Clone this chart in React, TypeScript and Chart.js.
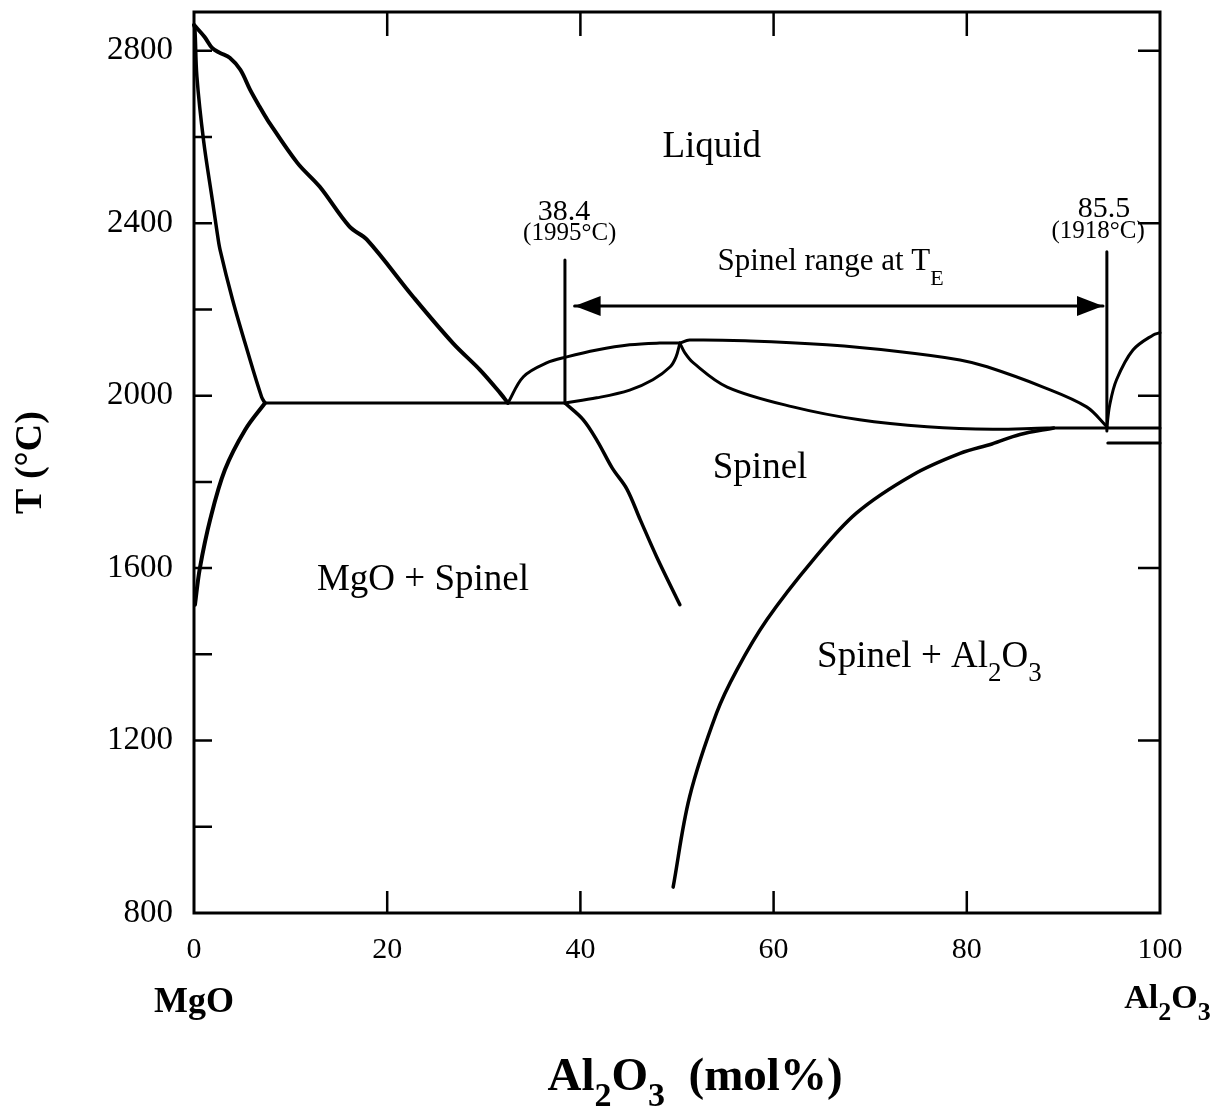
import React, { useEffect, useRef } from 'react';
import { Chart, registerables } from 'chart.js';

Chart.register(...registerables);

// ---------- axis ranges & ticks ----------
const X_MIN = 0;
const X_MAX = 100;
const Y_MIN = 800;
const Y_MAX = 2890;
const xTickValues = [0, 20, 40, 60, 80, 100];
const yTickValues = [800, 1000, 1200, 1400, 1600, 1800, 2000, 2200, 2400, 2600, 2800];
const yLabelValues = [800, 1200, 1600, 2000, 2400, 2800];
const leftInnerTicks = [1000, 1200, 1400, 1600, 1800, 2000, 2200, 2400, 2600, 2800];
const rightInnerTicks = [1200, 1600, 2000, 2400, 2800];
const topInnerTicks = [20, 40, 60, 80];
const bottomInnerTicks = [20, 40, 60, 80];

// ---------- phase boundaries (x = mol% Al2O3, y = °C) ----------
const mgoLiquidus: [number, number][] = [
  [0, 2860], [1.1, 2832], [1.9, 2806], [2.7, 2795], [3.7, 2784], [4.8, 2756], [5.8, 2710],
  [6.8, 2670], [7.6, 2640], [10.7, 2540], [13.0, 2485], [16.1, 2392], [17.9, 2362],
  [22.7, 2229], [26.8, 2122], [29.6, 2060], [31.7, 2006], [32.5, 1983],
];
const mgoSolidus: [number, number][] = [
  [0, 2860], [0.1, 2849], [0.3, 2740], [1.0, 2590], [1.9, 2454], [2.4, 2378], [2.7, 2338],
  [4.0, 2222], [5.5, 2106], [7.0, 1997], [7.35, 1983],
];
const mgoSolvus: [number, number][] = [
  [7.35, 1983], [5.3, 1921], [3.2, 1828], [1.7, 1715], [0.6, 1599], [0.1, 1515],
];
const eutecticMgO: [number, number][] = [[7.35, 1983], [38.4, 1983]];
const spinelLiquidusLeft: [number, number][] = [
  [32.5, 1983], [34.1, 2044], [36.5, 2076], [38.6, 2090], [41.7, 2106], [45.1, 2118],
  [48.2, 2122], [50.3, 2122],
];
const spinelSolidusLeft: [number, number][] = [
  [38.4, 1983], [41.7, 1995], [45.1, 2013], [47.5, 2037], [49.3, 2067], [49.9, 2090], [50.3, 2122],
];
const spinelLiquidusRight: [number, number][] = [
  [50.3, 2122], [51.3, 2129], [57.6, 2127], [65.5, 2118], [73.1, 2102], [79.3, 2083],
  [82.1, 2067], [87.9, 2020], [92.4, 1974], [94.5, 1928],
];
const spinelSolidusRight: [number, number][] = [
  [50.3, 2122], [50.8, 2100], [51.7, 2076], [55.2, 2020], [62.0, 1974], [68.9, 1944],
  [75.9, 1928], [82.7, 1922], [88.3, 1925], [94.5, 1925], [100, 1925],
];
const spinelSolvusMgO: [number, number][] = [
  [38.4, 1983], [40.3, 1944], [41.8, 1893], [43.3, 1832], [44.8, 1784], [46.2, 1712],
  [47.9, 1626], [50.3, 1515],
];
const spinelSolvusAl2O3: [number, number][] = [
  [49.6, 860], [51.3, 1069], [54.1, 1264], [56.2, 1364], [59.3, 1480], [64.1, 1619],
  [68.6, 1728], [74.4, 1816], [79.3, 1866], [82.6, 1888], [85.5, 1910], [89.0, 1925],
];
const al2o3Liquidus: [number, number][] = [
  [94.5, 1928], [94.8, 1979], [95.5, 2037], [97.2, 2106], [99.3, 2141], [100, 2146],
];
const al2o3Lower: [number, number][] = [[94.6, 1890], [100, 1890]];
const marker384: [number, number][] = [[38.4, 1983], [38.4, 2315]];
const marker855: [number, number][] = [[94.5, 1918], [94.5, 2334]];
const spinelRangeArrow: [number, number][] = [[39.4, 2208], [94.1, 2208]];

const FONT = '"Liberation Serif", "Times New Roman", Times, serif';

type Part = { t: string; sub?: boolean };

function drawRich(
  ctx: CanvasRenderingContext2D,
  parts: Part[],
  x: number,
  y: number,
  align: 'left' | 'center',
  size: number,
  bold: boolean,
  subSize: number,
  subDy: number,
) {
  const f = (s: number) => `${bold ? 'bold ' : ''}${s}px ${FONT}`;
  let w = 0;
  for (const p of parts) {
    ctx.font = f(p.sub ? subSize : size);
    w += ctx.measureText(p.t).width;
  }
  let cx = align === 'center' ? x - w / 2 : x;
  ctx.textAlign = 'left';
  ctx.textBaseline = 'alphabetic';
  for (const p of parts) {
    ctx.font = f(p.sub ? subSize : size);
    ctx.fillText(p.t, cx, p.sub ? y + subDy : y);
    cx += ctx.measureText(p.t).width;
  }
}

const overlayPlugin = {
  id: 'phaseOverlay',
  afterDatasetsDraw(chart: any) {
    const { ctx, chartArea: a, scales } = chart;
    const xs = scales.x;
    const ys = scales.y;
    const px = (v: number) => xs.getPixelForValue(v);
    const py = (v: number) => ys.getPixelForValue(v);
    ctx.save();
    ctx.strokeStyle = '#000';
    ctx.fillStyle = '#000';

    // frame
    ctx.lineWidth = 3;
    ctx.strokeRect(a.left, a.top, a.right - a.left, a.bottom - a.top);

    // inward tick marks
    ctx.lineWidth = 2.5;
    ctx.beginPath();
    for (const v of leftInnerTicks) {
      ctx.moveTo(a.left, py(v));
      ctx.lineTo(a.left + 18, py(v));
    }
    for (const v of rightInnerTicks) {
      ctx.moveTo(a.right, py(v));
      ctx.lineTo(a.right - 22, py(v));
    }
    for (const v of topInnerTicks) {
      ctx.moveTo(px(v), a.top);
      ctx.lineTo(px(v), a.top + 24);
    }
    for (const v of bottomInnerTicks) {
      ctx.moveTo(px(v), a.bottom);
      ctx.lineTo(px(v), a.bottom - 22);
    }
    ctx.stroke();

    // arrow heads
    const [l, r] = spinelRangeArrow;
    const lx = px(l[0]);
    const ly = py(l[1]);
    const rx = px(r[0]);
    const ry = py(r[1]);
    ctx.beginPath();
    ctx.moveTo(lx, ly);
    ctx.lineTo(lx + 26, ly - 10);
    ctx.lineTo(lx + 26, ly + 10);
    ctx.closePath();
    ctx.fill();
    ctx.beginPath();
    ctx.moveTo(rx, ry);
    ctx.lineTo(rx - 26, ry - 10);
    ctx.lineTo(rx - 26, ry + 10);
    ctx.closePath();
    ctx.fill();

    // region & annotation labels
    ctx.textAlign = 'center';
    ctx.textBaseline = 'alphabetic';
    ctx.font = `37px ${FONT}`;
    ctx.fillText('Liquid', px(53.6), py(2554));
    ctx.fillText('Spinel', px(58.6), py(1809));
    ctx.fillText('MgO + Spinel', px(23.7), py(1549));
    drawRich(ctx, [{ t: 'Spinel + Al' }, { t: '2', sub: true }, { t: 'O' }, { t: '3', sub: true }],
      px(64.5), py(1371), 'left', 37, false, 27, 14);

    ctx.textAlign = 'center';
    ctx.font = `30px ${FONT}`;
    ctx.fillText('38.4', px(38.3), py(2408));
    ctx.fillText('85.5', px(94.2), py(2415));
    ctx.font = `25px ${FONT}`;
    ctx.fillText('(1995°C)', px(38.9), py(2361));
    ctx.fillText('(1918°C)', px(93.6), py(2366));
    drawRich(ctx, [{ t: 'Spinel range at T' }, { t: 'E', sub: true }],
      px(54.2), py(2292), 'left', 31, false, 22, 15);

    // composition end-member labels and x title
    ctx.textAlign = 'center';
    ctx.font = `bold 36px ${FONT}`;
    ctx.fillText('MgO', px(0), a.bottom + 99);
    drawRich(ctx, [{ t: 'Al' }, { t: '2', sub: true }, { t: 'O' }, { t: '3', sub: true }],
      px(96.3), a.bottom + 95, 'left', 34, true, 26, 12);
    drawRich(ctx, [{ t: 'Al' }, { t: '2', sub: true }, { t: 'O' }, { t: '3', sub: true }, { t: '  (mol%)' }],
      (a.left + a.right) / 2 + 18, a.bottom + 177, 'center', 47, true, 34, 16);

    ctx.restore();
  },
};

const seriesList: { data: [number, number][]; width: number }[] = [
  { data: mgoLiquidus, width: 4 },
  { data: mgoSolidus, width: 3.5 },
  { data: mgoSolvus, width: 4 },
  { data: eutecticMgO, width: 3 },
  { data: spinelLiquidusLeft, width: 3 },
  { data: spinelSolidusLeft, width: 3 },
  { data: spinelLiquidusRight, width: 3 },
  { data: spinelSolidusRight, width: 3 },
  { data: spinelSolvusMgO, width: 3.5 },
  { data: spinelSolvusAl2O3, width: 3.5 },
  { data: al2o3Liquidus, width: 3 },
  { data: al2o3Lower, width: 3 },
  { data: marker384, width: 3 },
  { data: marker855, width: 3 },
  { data: spinelRangeArrow, width: 3 },
];

export default function App() {
  const ref = useRef<HTMLCanvasElement | null>(null);

  useEffect(() => {
    if (!ref.current) return;
    const chart = new Chart(ref.current, {
      type: 'scatter',
      data: {
        datasets: seriesList.map((s) => ({
          data: s.data.map(([x, y]) => ({ x, y })),
          showLine: true,
          borderColor: '#000',
          backgroundColor: '#000',
          borderWidth: s.width,
          pointRadius: 0,
          pointHoverRadius: 0,
          tension: s.data.length > 2 ? 0.35 : 0,
          borderCapStyle: 'round',
          borderJoinStyle: 'round',
          clip: 4,
        })),
      },
      options: {
        animation: false,
        responsive: false,
        devicePixelRatio: 1,
        events: [],
        layout: { padding: { left: 8, right: 62, top: 12, bottom: 0 } },
        plugins: {
          legend: { display: false },
          tooltip: { enabled: false },
        },
        scales: {
          x: {
            type: 'linear',
            min: X_MIN,
            max: X_MAX,
            grid: { display: false, drawTicks: false },
            border: { display: false },
            afterBuildTicks: (axis: any) => {
              axis.ticks = xTickValues.map((v) => ({ value: v }));
            },
            afterFit: (axis: any) => {
              axis.height = 201;
              axis.paddingLeft = 0;
              axis.paddingRight = 0;
              axis.paddingTop = 0;
              axis.paddingBottom = 0;
            },
            ticks: {
              autoSkip: false,
              maxRotation: 0,
              padding: 19,
              color: '#000',
              font: { family: FONT, size: 30 },
              callback: (v: any) => String(v),
            },
          },
          y: {
            type: 'linear',
            min: Y_MIN,
            max: Y_MAX,
            grid: { display: false, drawTicks: false },
            border: { display: false },
            afterBuildTicks: (axis: any) => {
              axis.ticks = yTickValues.map((v) => ({ value: v }));
            },
            afterFit: (axis: any) => {
              axis.width = 186;
              axis.paddingLeft = 0;
              axis.paddingRight = 0;
              axis.paddingTop = 0;
              axis.paddingBottom = 0;
            },
            ticks: {
              autoSkip: false,
              padding: 21,
              color: '#000',
              font: { family: FONT, size: 33 },
              callback: (v: any) => (yLabelValues.includes(Number(v)) ? String(v) : ''),
            },
            title: {
              display: true,
              text: 'T (°C)',
              color: '#000',
              padding: 0,
              font: { family: FONT, size: 38, weight: 'bold' },
            },
          },
        },
      },
      plugins: [overlayPlugin],
    } as any);
    return () => chart.destroy();
  }, []);

  return (
    <div style={{ position: 'absolute', left: 0, top: 0, width: 1222, height: 1114, background: '#fff' }}>
      <canvas ref={ref} width={1222} height={1114} />
    </div>
  );
}
